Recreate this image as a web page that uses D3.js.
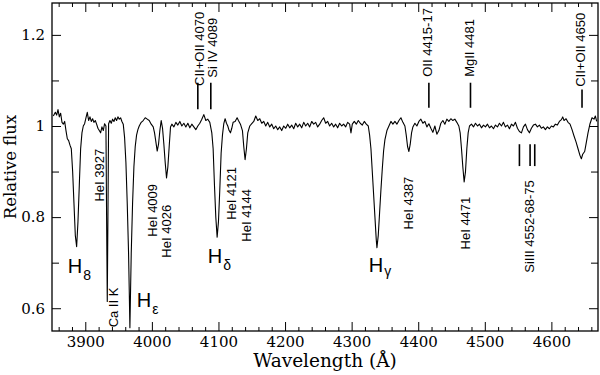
<!DOCTYPE html>
<html>
<head>
<meta charset="utf-8">
<script src="https://cdn.jsdelivr.net/npm/d3@7"></script>
<style>
  body { margin: 0; background: #fff; }
  svg { display: block; }
</style>
</head>
<body>
<script>
// spectrum: wavelength (A) and relative flux
let waves = [
  3852,3855,3857,3859,3861,3863,3865,3867,3869,3871,3873,3875,3877,3879,3881,3883,3885,3887,3889,3891,
  3893,3895,3897,3899,3901,3903,3905,3907,3909,3911,3913,3915,3917,3919,3921,3923,3925,3927,3929,3931,
  3932,3933,3934,3935,3937,3939,3941,3943,3945,3947,3949,3951,3953,3955,3957,3959,3961,3963,3965,3966,
  3967,3968,3969,3971,3973,3975,3977,3979,3981,3984,3987,3990,3993,3996,3999,4002,4004,4006,4008,4010,
  4012,4014,4016,4018,4020,4022,4024,4026,4028,4030,4033,4036,4039,4042,4045,4048,4051,4054,4057,4060,
  4063,4066,4069,4072,4075,4078,4081,4084,4087,4090,4092,4094,4096,4098,4100,4102,4104,4106,4108,4110,
  4112,4114,4116,4118,4120,4122,4125,4128,4130,4133,4136,4138,4140,4142,4144,4147,4150,4153,4156,4159,
  4162,4165,4168,4171,4174,4177,4180,4183,4186,4189,4192,4195,4198,4201,4204,4207,4210,4213,4216,4219,
  4222,4225,4228,4231,4234,4237,4240,4243,4246,4249,4252,4255,4258,4261,4264,4267,4270,4273,4276,4279,
  4282,4285,4288,4291,4294,4297,4299,4301,4304,4307,4310,4313,4316,4319,4322,4325,4327,4329,4331,4333,
  4335,4337,4338,4340,4342,4344,4346,4348,4350,4353,4356,4359,4362,4365,4368,4371,4374,4377,4380,4382,
  4384,4386,4388,4390,4392,4395,4398,4401,4404,4407,4410,4413,4416,4419,4422,4425,4428,4431,4434,4437,
  4440,4443,4446,4449,4452,4455,4458,4461,4463,4465,4467,4469,4471,4473,4475,4477,4480,4483,4486,4489,
  4492,4495,4498,4501,4504,4507,4510,4513,4516,4519,4522,4525,4528,4531,4534,4537,4540,4543,4546,4549,
  4552,4555,4558,4561,4564,4567,4570,4573,4576,4579,4582,4585,4588,4591,4594,4597,4600,4603,4606,4609,
  4612,4615,4617,4619,4622,4625,4628,4631,4634,4637,4640,4643,4645,4647,4650,4652,4655,4658,4661,4664,
  4666,4668
];
let flux = [
  1.022,1.030,1.024,1.036,1.020,1.028,1.008,1.004,1.010,0.990,0.972,0.968,0.958,0.950,0.900,0.830,0.760,0.735,0.790,0.870,
  0.950,0.985,1.000,1.005,1.018,1.030,1.012,1.020,1.010,1.016,1.008,1.012,1.004,0.995,0.990,0.985,0.998,0.990,1.005,1.000,
  0.800,0.615,0.800,1.005,1.012,1.006,1.015,1.010,1.018,1.012,1.020,1.015,1.018,1.010,1.004,0.975,0.920,0.830,0.720,0.640,
  0.557,0.640,0.720,0.830,0.910,0.955,0.980,0.992,1.000,1.008,1.012,1.018,1.015,1.012,1.004,0.998,0.985,0.965,0.945,0.960,
  0.990,1.012,0.995,0.960,0.920,0.886,0.910,0.955,0.998,1.004,0.998,1.008,1.002,1.010,1.000,1.006,0.998,1.006,0.996,1.004,
  0.998,0.992,1.000,1.006,1.015,1.025,1.012,1.015,1.008,0.985,0.950,0.870,0.800,0.756,0.790,0.860,0.940,0.980,1.005,1.016,
  1.006,1.000,0.990,0.985,0.995,1.008,1.010,1.018,1.012,1.004,0.990,0.955,0.926,0.950,0.985,1.000,1.005,1.010,1.022,1.012,
  1.016,1.006,1.010,1.000,1.008,0.998,1.004,0.994,1.000,0.992,0.998,0.990,1.000,0.995,1.004,0.996,1.002,0.994,1.006,0.998,
  1.004,0.996,1.008,1.000,1.006,0.998,1.010,1.004,1.008,0.998,1.004,1.012,1.018,1.006,1.010,1.000,1.006,0.998,1.004,0.996,
  1.006,1.000,1.004,0.998,1.008,1.004,0.985,1.004,1.010,1.004,1.012,1.006,1.002,1.010,1.004,1.000,0.980,0.950,0.900,0.850,
  0.800,0.750,0.733,0.760,0.810,0.860,0.905,0.945,0.970,0.990,1.000,1.010,1.004,1.010,1.004,1.012,1.018,1.008,1.000,0.980,
  0.955,0.944,0.960,0.985,0.998,1.006,1.000,1.010,1.015,1.006,1.010,0.998,1.005,0.995,0.986,1.000,0.982,0.990,1.006,1.012,
  1.004,1.015,1.010,1.016,1.012,1.015,1.008,1.000,0.985,0.950,0.910,0.877,0.900,0.950,0.985,1.000,1.004,0.998,1.006,1.000,
  1.004,0.996,1.002,0.998,1.004,0.996,1.000,0.994,1.002,0.998,1.006,1.000,1.008,0.998,1.002,0.994,1.004,1.000,1.008,0.995,
  0.988,0.985,0.998,1.004,0.992,0.985,0.995,1.002,1.004,0.998,1.002,0.995,0.998,0.992,0.998,0.994,1.000,0.998,1.004,1.002,
  1.010,1.014,1.020,1.012,1.016,1.008,1.004,0.992,0.978,0.965,0.950,0.935,0.928,0.938,0.944,0.960,0.985,1.005,1.018,1.015,
  1.022,1.010
];

// axis ticks
let xMajor = [3900, 4000, 4100, 4200, 4300, 4400, 4500, 4600];
let xMinor = d3.range(3860, 4670, 20).filter(d => d % 100 !== 0);
let yMajor = [0.6, 0.8, 1.0, 1.2];
let yMinor = [0.7, 0.9, 1.1];
let yLabels = ['0.6', '0.8', '1', '1.2'];

// line identifications: markers above / below the spectrum
let markUp = [4069, 4088.5, 4416, 4478.5, 4646];
let markDown = [4552, 4568, 4575];

// rotated labels: text, wavelength, flux at the start of the text
let lineNames = ['HeI 3927', 'Ca II K', 'HeI 4009', 'HeI 4026', 'HeI 4121', 'HeI 4144', 'HeI 4387', 'HeI 4471',
                 'SiIII 4552-68-75', 'CII+OII 4070', 'Si IV 4089', 'OII 4415-17', 'MgII 4481', 'CII+OII 4650'];
let lineWaves = [3921.8, 3942.8, 4001.4, 4022.4, 4119.2, 4141.7, 4385.7, 4471.3, 4567.4, 4071.9, 4090.7, 4414.3, 4477.4, 4644];
let lineFlux  = [0.834, 0.558, 0.757, 0.711, 0.794, 0.746, 0.773, 0.729, 0.678, 1.088, 1.106, 1.108, 1.108, 1.086];

// Balmer labels
let balmerSub = ['8', '\u03b5', '\u03b4', '\u03b3'];
let balmerWaves = [3873.7, 3977.3, 4083.9, 4325.7];
let balmerFlux = [0.678, 0.602, 0.700, 0.680];

let width = 600, height = 375;
let margin = { top: 3, right: 2, bottom: 44, left: 52 };

let svg = d3.select('body').append('svg')
  .attr('width', width)
  .attr('height', height);

let x = d3.scaleLinear()
  .domain([3850, 4670])
  .range([margin.left, width - margin.right]);

let y = d3.scaleLinear()
  .domain([0.55, 1.27])
  .range([height - margin.bottom, margin.top]);

let x0 = margin.left, x1 = width - margin.right;
let y0 = height - margin.bottom, y1 = margin.top;

svg.append('clipPath').attr('id', 'clip')
  .append('rect')
  .attr('x', x0).attr('y', y1)
  .attr('width', x1 - x0).attr('height', y0 - y1);

let serif = 'DejaVu Serif, serif';
let sans = 'Liberation Sans, Arial, sans-serif';

// axes with inward ticks
function styleAxis(g) {
  g.select('.domain').remove();
  g.selectAll('line').attr('stroke', '#000').attr('stroke-width', 1);
  g.selectAll('text').attr('font-family', serif).attr('font-size', 15).attr('fill', '#000');
}

svg.append('g')
  .attr('transform', `translate(0,${y0})`)
  .call(d3.axisBottom(x).tickValues(xMajor).tickSizeInner(-9).tickSizeOuter(0).tickPadding(5).tickFormat(d3.format('d')))
  .call(styleAxis);
svg.append('g')
  .attr('transform', `translate(0,${y0})`)
  .call(d3.axisBottom(x).tickValues(xMinor).tickSizeInner(-4).tickSizeOuter(0).tickFormat(''))
  .call(styleAxis);
svg.append('g')
  .attr('transform', `translate(0,${y1})`)
  .call(d3.axisTop(x).tickValues(xMajor).tickSizeInner(-9).tickSizeOuter(0).tickFormat(''))
  .call(styleAxis);
svg.append('g')
  .attr('transform', `translate(0,${y1})`)
  .call(d3.axisTop(x).tickValues(xMinor).tickSizeInner(-4).tickSizeOuter(0).tickFormat(''))
  .call(styleAxis);

svg.append('g')
  .attr('transform', `translate(${x0},0)`)
  .call(d3.axisLeft(y).tickValues(yMajor).tickSizeInner(-9).tickSizeOuter(0).tickPadding(7)
        .tickFormat((d, i) => yLabels[i]))
  .call(styleAxis);
svg.append('g')
  .attr('transform', `translate(${x0},0)`)
  .call(d3.axisLeft(y).tickValues(yMinor).tickSizeInner(-7).tickSizeOuter(0).tickFormat(''))
  .call(styleAxis);
svg.append('g')
  .attr('transform', `translate(${x1},0)`)
  .call(d3.axisRight(y).tickValues(yMajor).tickSizeInner(-9).tickSizeOuter(0).tickFormat(''))
  .call(styleAxis);
svg.append('g')
  .attr('transform', `translate(${x1},0)`)
  .call(d3.axisRight(y).tickValues(yMinor).tickSizeInner(-7).tickSizeOuter(0).tickFormat(''))
  .call(styleAxis);

// spectrum
let spec = waves.map((w, i) => ({ w: w, f: flux[i] }));
let line = d3.line()
  .x(d => x(d.w))
  .y(d => y(d.f));

svg.append('path')
  .datum(spec)
  .attr('clip-path', 'url(#clip)')
  .attr('d', line)
  .attr('fill', 'none')
  .attr('stroke', '#000')
  .attr('stroke-width', 1.1)
  .attr('stroke-linejoin', 'round');

// markers
svg.selectAll('.mup').data(markUp).enter().append('line')
  .attr('x1', d => x(d)).attr('x2', d => x(d))
  .attr('y1', (d, i) => y(i === 4 ? 1.08 : 1.095)).attr('y2', (d, i) => y(i < 2 ? 1.037 : 1.04))
  .attr('stroke', '#000').attr('stroke-width', 1.6);

svg.selectAll('.mdown').data(markDown).enter().append('line')
  .attr('x1', d => x(d)).attr('x2', d => x(d))
  .attr('y1', y(0.96)).attr('y2', y(0.912))
  .attr('stroke', '#000').attr('stroke-width', 1.6);

// rotated line labels
lineNames.forEach((t, i) => {
  svg.append('text')
    .attr('transform', `translate(${x(lineWaves[i])},${y(lineFlux[i])}) rotate(-90)`)
    .attr('dy', '0.36em')
    .attr('font-family', sans)
    .attr('font-size', 13)
    .text(t);
});

// Balmer labels
balmerSub.forEach((s, i) => {
  let t = svg.append('text')
    .attr('x', x(balmerWaves[i]))
    .attr('y', y(balmerFlux[i]))
    .attr('font-family', sans)
    .attr('font-size', 20);
  t.append('tspan').text('H');
  t.append('tspan').attr('font-size', 14).attr('dx', 1).attr('dy', i === 3 ? 4 : 7).text(s);
});

// frame
svg.append('rect')
  .attr('x', x0).attr('y', y1)
  .attr('width', x1 - x0).attr('height', y0 - y1)
  .attr('fill', 'none')
  .attr('stroke', '#000')
  .attr('stroke-width', 1.3);

// axis titles
svg.append('text')
  .text('Wavelength (\u00c5)')
  .attr('x', (x0 + x1) / 2)
  .attr('y', 367)
  .attr('text-anchor', 'middle')
  .attr('font-family', serif)
  .attr('font-size', 18.5);

svg.append('text')
  .text('Relative flux')
  .attr('transform', `translate(16,${(y0 + y1) / 2}) rotate(-90)`)
  .attr('text-anchor', 'middle')
  .attr('font-family', serif)
  .attr('font-size', 16.5);
</script>
</body>
</html>
